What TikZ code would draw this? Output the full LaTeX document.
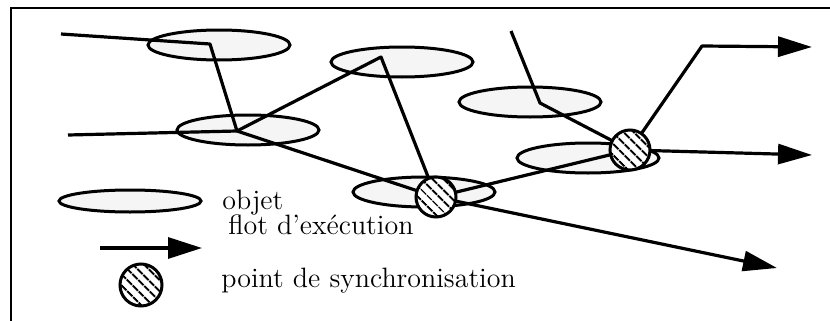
\documentclass[tikz,border=0pt]{standalone}
\usepackage{tikz}
\usetikzlibrary{shapes.geometric,arrows.meta,patterns.meta}

\begin{document}
\begin{tikzpicture}[x=0.5pt, y=-0.5pt,
        obj/.style={ellipse, draw=black, line width=1.5pt, fill=black!4,
                    minimum width=71pt, minimum height=15pt, inner sep=0pt},
        sync/.style={circle, draw=black, line width=1.5pt,
                     minimum size=20pt, inner sep=0pt,
                     preaction={fill=white},
                     pattern={Lines[angle=-45, distance=4pt, line width=1.1pt]}},
        flow/.style={line width=1.6pt, line join=round},
        arr/.style={flow, -{Triangle[length=17pt, width=10pt]}},
        lbl/.style={anchor=base west, inner sep=0pt,
                    font=\fontsize{14}{16}\selectfont},
      ]
      \useasboundingbox (0,0) rectangle (830,321);
      \draw[line width=1.3pt] (830,8) -- (11,8) -- (11,321);
      \node[obj] (o1) at (219,45)  {};
      \node[obj] (o2) at (402,62)  {};
      \node[obj] (o3) at (248,130) {};
      \node[obj] (o4) at (530,102) {};
      \node[obj] (o5) at (588,158) {};
      \node[obj] (o6) at (424,192) {};
      \node[obj, minimum height=11pt] (lobj) at (130,201) {};
      \coordinate (in1)  at (61,34);
      \coordinate (b1)   at (210,44);
      \coordinate (j1)   at (237,131);
      \coordinate (in2)  at (68,135);
      \coordinate (b2)   at (381,57);
      \coordinate (in3)  at (511,31);
      \coordinate (b3)   at (540,103);
      \coordinate (s1)   at (436,197);
      \coordinate (s2)   at (630,150);
      \coordinate (b4)   at (702,46);
      \coordinate (out1) at (812,47);
      \coordinate (out2) at (812,155);
      \coordinate (out3) at (777,268);
      \coordinate (la)   at (100,248);
      \coordinate (lb)   at (202,248);
      \draw[flow] (in1) -- (b1) -- (j1);
      \draw[flow] (in2) -- (j1) -- (b2) -- (s1);
      \draw[flow] (j1) -- (s1) -- (s2);
      \draw[flow] (in3) -- (b3) -- (s2);
      \draw[arr]  (s2) -- (b4) -- (out1);
      \draw[arr]  (s2) -- (out2);
      \draw[arr]  (s1) -- (out3);
      \draw[arr, -{Triangle[length=17pt, width=10.5pt]}] (la) -- (lb);
      \node[sync] (sy1)   at (s1) {};
      \node[sync] (sy2)   at (s2) {};
      \node[sync, minimum size=21pt] (lsync) at (141,285) {};
      \node[lbl] (tobj)  at (222,209) {objet};
      \node[lbl] (tflot) at (228,234) {flot d'exécution};
      \node[lbl] (tsync) at (221,287) {point de synchronisation};
    \end{tikzpicture}
\end{document}
